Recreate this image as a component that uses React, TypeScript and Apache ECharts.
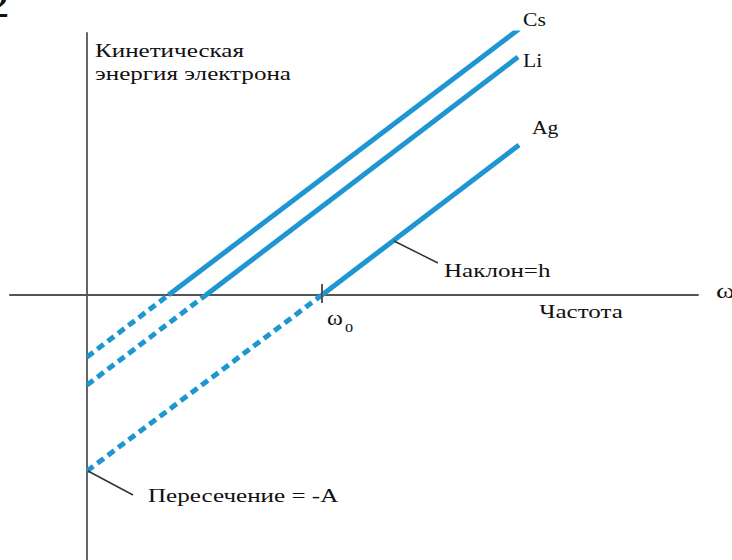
import React, { useEffect, useRef } from "react";
import * as echarts from "echarts";

// ---- data (arbitrary units: frequency ω on x, kinetic energy on y) ----
const xRange = [-7.7, 61.1];
const yRange = [-26.5, 26.2];

const metals = ["Cs", "Li", "Ag"];
const intercepts = [-6.2, -9.0, -17.6]; // energy at ω = 0 (= -A)
const thresholds = [8.15, 11.9, 23.5]; // ω where energy = 0
const endX = [43.2, 43.1, 43.2];
const endY = [26.6, 23.8, 15.0];

const omega0 = 23.5;
const omega0Tick = [-0.8, 1.1];
const slopeLeader = [
  [30.7, 5.4],
  [35.1, 3.2],
];
const interceptLeader = [
  [0.1, -17.6],
  [4.6, -20.0],
];
const freqTitleX = 49.4;

const BLUE = "#1e96d2";
const AXIS = "#555555";
const SERIF = "'Liberation Serif', 'Times New Roman', serif";

export default function App() {
  const ref = useRef<HTMLDivElement>(null);

  useEffect(() => {
    if (!ref.current) return;
    const chart = echarts.init(ref.current, undefined, { renderer: "svg" });

    const series: any[] = [];
    metals.forEach((m, i) => {
      series.push({
        name: m + " solid",
        type: "line",
        symbol: "none",
        silent: true,
        lineStyle: { color: BLUE, width: 5, cap: "butt" },
        data: [
          [thresholds[i], 0],
          [endX[i], endY[i]],
        ],
        z: 3,
      });
      series.push({
        name: m + " extrapolated",
        type: "line",
        symbol: "none",
        silent: true,
        lineStyle: { color: BLUE, width: 5, type: [8, 5], cap: "butt" },
        data: [
          [0, intercepts[i]],
          [thresholds[i], 0],
        ],
        z: 3,
      });
    });
    series.push({
      name: "omega0 tick",
      type: "line",
      symbol: "none",
      silent: true,
      lineStyle: { color: AXIS, width: 2 },
      data: [
        [omega0, omega0Tick[0]],
        [omega0, omega0Tick[1]],
      ],
      z: 4,
    });
    series.push({
      name: "slope leader",
      type: "line",
      symbol: "none",
      silent: true,
      lineStyle: { color: "#333", width: 1.5 },
      data: slopeLeader,
      z: 4,
    });
    series.push({
      name: "intercept leader",
      type: "line",
      symbol: "none",
      silent: true,
      lineStyle: { color: "#333", width: 1.5 },
      data: interceptLeader,
      z: 4,
    });

    chart.setOption({
      animation: false,
      backgroundColor: "#ffffff",
      grid: { left: 10, right: 34, top: 33, bottom: 0 },
      xAxis: {
        type: "value",
        min: xRange[0],
        max: xRange[1],
        axisLine: { onZero: true, lineStyle: { color: AXIS, width: 2 } },
        axisTick: { show: false },
        axisLabel: { show: false },
        splitLine: { show: false },
      },
      yAxis: {
        type: "value",
        min: yRange[0],
        max: yRange[1],
        axisLine: { onZero: true, lineStyle: { color: "#666", width: 2 } },
        axisTick: { show: false },
        axisLabel: { show: false },
        splitLine: { show: false },
      },
      series,
    });

    const px = (p: number[]) =>
      chart.convertToPixel({ xAxisIndex: 0, yAxisIndex: 0 }, p) as number[];

    const txt = (
      text: string,
      anchor: number[],
      dx: number,
      dy: number,
      fontSize: number,
      align = "left",
      scaleX = 1.32
    ) => {
      const [ax, ay] = px(anchor);
      return {
        type: "text",
        x: ax + dx,
        y: ay + dy,
        scaleX,
        silent: true,
        z: 10,
        style: {
          text,
          fill: "#111111",
          fontFamily: SERIF,
          fontSize,
          align,
          verticalAlign: "middle",
        },
      };
    };

    const graphics: any[] = [
      txt(metals[0], [endX[0], endY[0]], 4, -9, 18, "left", 1.2),
      txt(metals[1], [endX[1], endY[1]], 5, 4, 18, "left", 1.2),
      txt(metals[2], [endX[2], endY[2]], 13, -17, 18, "left", 1.2),
      txt("Наклон=h", slopeLeader[1], 6, 7.5, 19),
      txt("Пересечение = -A", interceptLeader[1], 15, 0.5, 19),
      txt("Частота", [freqTitleX, 0], 0, 16.5, 19, "center"),
      txt("Кинетическая", [0, yRange[1]], 8, 17.5, 19),
      txt("энергия электрона", [0, yRange[1]], 8, 40.5, 19),
      txt("ω", [omega0, 0], 5, 23.5, 20, "left", 1.2),
      txt("0", [omega0, 0], 23, 32.5, 13, "left", 1.25),
      txt("ω", [xRange[1], 0], 18, -4, 22, "left", 1.3),
      {
        type: "text",
        x: 10,
        y: 4,
        scaleX: 1.3,
        silent: true,
        style: {
          text: "2",
          fill: "#111",
          fontFamily: SERIF,
          fontSize: 40,
          align: "right",
          verticalAlign: "middle",
        },
      },
    ];

    chart.setOption({ graphic: graphics });

    return () => chart.dispose();
  }, []);

  return (
    <div
      ref={ref}
      style={{
        position: "fixed",
        left: 0,
        top: 0,
        width: 732,
        height: 560,
        background: "#fff",
      }}
    />
  );
}
